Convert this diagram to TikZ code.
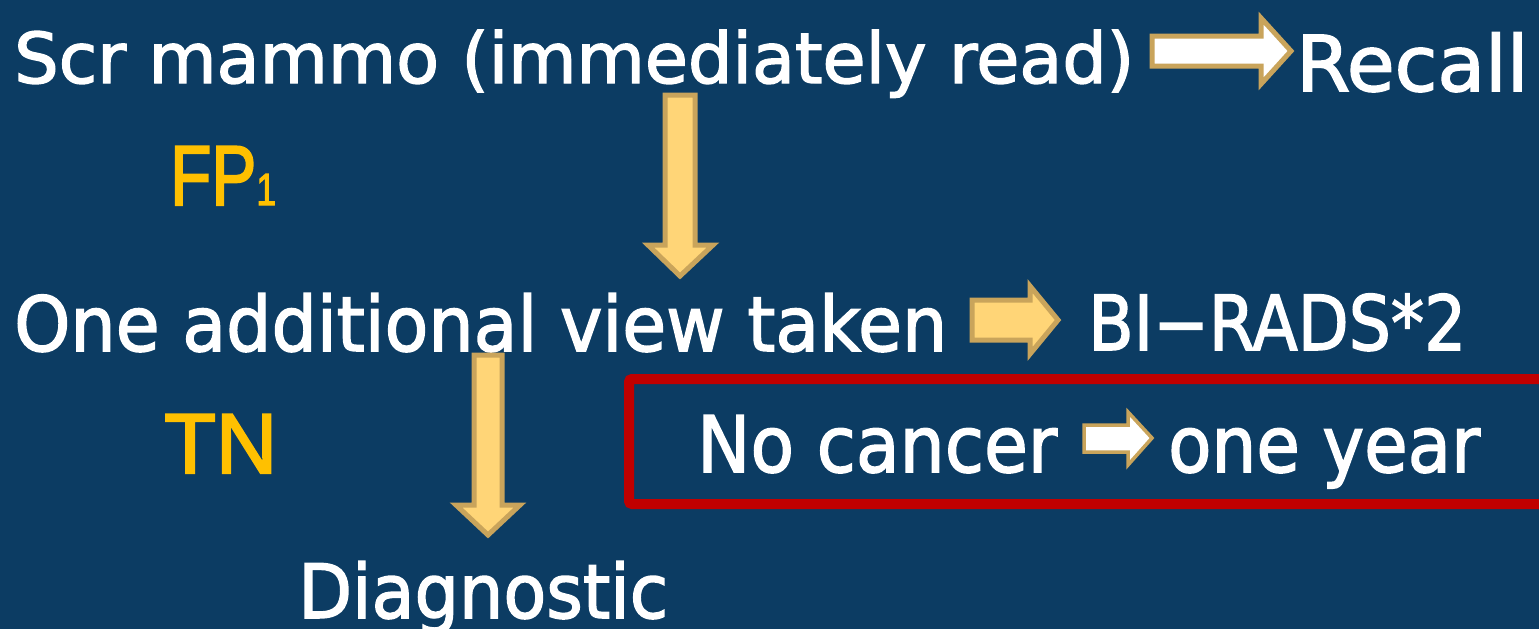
\documentclass[tikz,border=0pt]{standalone}
\usepackage{fontspec}
\usepackage{graphicx}
\usepackage{tikz}
\setmainfont{DejaVu Sans}[FakeBold=2]
\newfontfamily\labelfont{Liberation Sans}[FakeBold=2.5]

\definecolor{slideblue}{HTML}{0C3C63}
\definecolor{labelgold}{HTML}{FFC000}
\definecolor{arrowfill}{HTML}{FFD577}
\definecolor{arrowedge}{HTML}{C9A45B}
\definecolor{boxred}{HTML}{C00000}

% stretch a text to a given width (in pt)
\newsavebox{\fitbox}
\newlength{\fitlen}
\newcommand{\fitw}[2]{\sbox{\fitbox}{#2}\setlength{\fitlen}{\wd\fitbox}%
  \pgfmathsetmacro{\fitscale}{#1/\fitlen}\scalebox{\fitscale}[1]{\usebox{\fitbox}}}

\tikzset{
  txt/.style={text=white,inner sep=0pt,anchor=base west},
  goldtxt/.style={text=labelgold,inner sep=0pt,anchor=base west,font=\labelfont\fontsize{85}{90}\selectfont},
  goldarrow/.style={fill=arrowfill,draw=arrowedge,line width=5pt,line join=miter},
  whitearrow/.style={fill=white,draw=arrowedge,line width=5pt,line join=miter}
}

\begin{document}
\begin{tikzpicture}[x=1pt,y=-1pt]
  \useasboundingbox (0,0) rectangle (1539,629);
  \fill[slideblue] (0,0) rectangle (1539,629);

  % first line
  \node[txt,font=\fontsize{70}{84}\selectfont] (scr) at (14,83) {\fitw{1120}{Scr mammo (immediately read)}};
  \node[txt,font=\fontsize{77}{90}\selectfont] (recall) at (1296,91) {\fitw{232}{Recall}};
  % white arrow to recall
  \draw[whitearrow] (1152,36) -- (1261,36) -- (1261,18) -- (1291,51)
    -- (1261,84) -- (1261,66) -- (1152,66) -- cycle;

  % false positive
  \node[goldtxt] (fp) at (170,205) {\fitw{106}{FP{\fontsize{45}{50}\selectfont 1}}};

  % down to the additional view
  \draw[goldarrow] (665,95) -- (695,95) -- (695,245) -- (713,245) -- (680,276)
    -- (648,245) -- (665,245) -- cycle;

  % second line
  \node[txt,font=\fontsize{76}{90}\selectfont] (view) at (14,351) {\fitw{933}{One additional view taken}};
  \draw[goldarrow] (972,300) -- (1030,300) -- (1030,286) -- (1058,320)
    -- (1030,354) -- (1030,340) -- (972,340) -- cycle;
  \node[txt,font=\fontsize{76}{90}\selectfont] (birads) at (1088,350) {\fitw{378}{BI−RADS*2}};

  % true negative
  \node[goldtxt] (tn) at (164,473) {\fitw{113}{TN}};

  % down to diagnostic
  \draw[goldarrow] (474,355) -- (502,355) -- (502,505) -- (520,505) -- (488,535)
    -- (456,505) -- (474,505) -- cycle;

  % red box
  \draw[boxred,line width=10pt,rounded corners=3pt] (629,379) rectangle (1560,504);
  \node[txt,font=\fontsize{78}{90}\selectfont] (nocancer) at (697,472) {\fitw{360}{No cancer}};
  \draw[whitearrow,line width=3.5pt] (1084,425) -- (1128,425) -- (1128,412) -- (1152,438)
    -- (1128,465) -- (1128,452) -- (1084,452) -- cycle;
  \node[txt,font=\fontsize{78}{90}\selectfont] (oneyear) at (1168,472) {\fitw{312}{one year}};

  % third line
  \node[txt,font=\fontsize{75}{90}\selectfont] (diag) at (298,618) {\fitw{370}{Diagnostic}};
\end{tikzpicture}
\end{document}
